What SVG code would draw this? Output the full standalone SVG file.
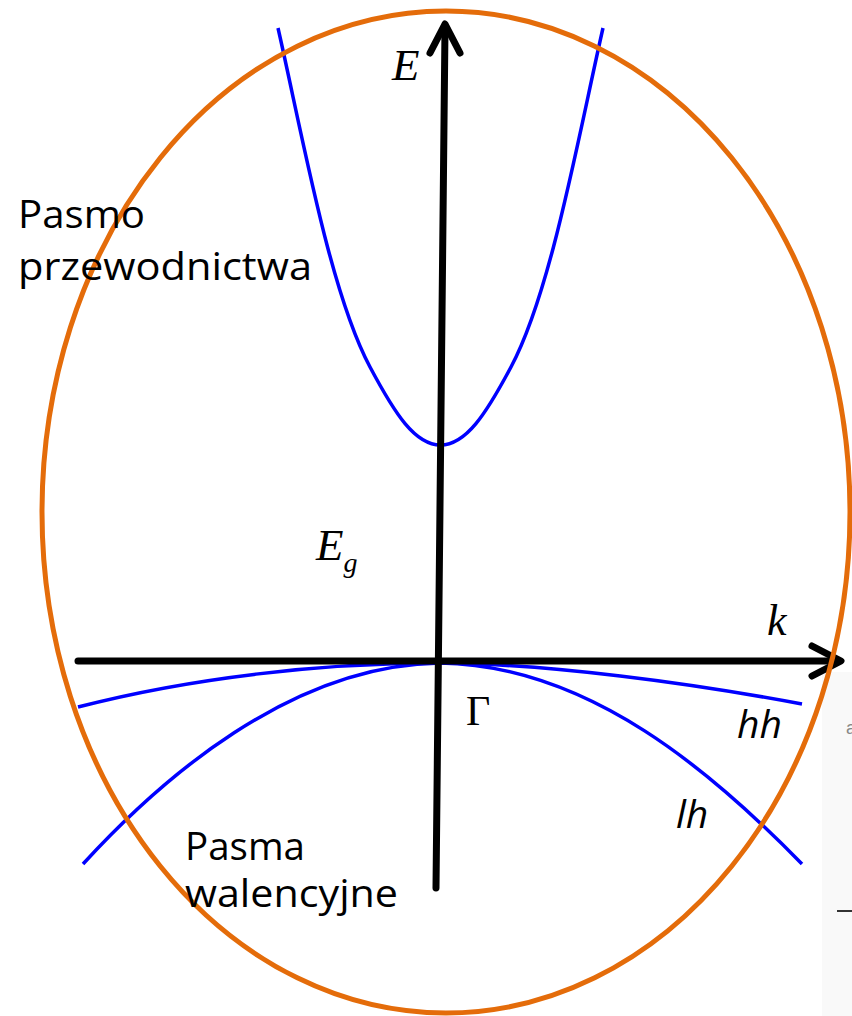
<svg xmlns="http://www.w3.org/2000/svg" width="852" height="1016" viewBox="0 0 852 1016">
<style>
.band{fill:none;stroke:#0000ff;stroke-width:3.5;stroke-linejoin:round;stroke-linecap:butt}
.axis{fill:none;stroke:#000;stroke-width:7;stroke-linecap:round;stroke-linejoin:round}
.sans{font-family:"Open Sans","Liberation Sans",sans-serif;font-size:39px;fill:#000}
.serif{font-family:"Liberation Serif","DejaVu Serif",serif;fill:#000}
</style>
<rect x="0" y="0" width="852" height="1016" fill="#fff"/>
<g id="side-strip">
<rect x="822" y="672" width="30" height="344" fill="#f9f9f9"/>
<text x="846" y="734" font-family="Liberation Sans, sans-serif" font-size="18" fill="#888">a</text>
<line x1="837" y1="911" x2="852" y2="911" stroke="#333" stroke-width="2"/>
</g>
<g id="bands">
<path id="conduction" class="band" d="M278,28 C303,138 330,292 370,367 C395,414 415,445 440.5,445 C466,445 486,414 511,367 C551,292 578,138 603,28"/>
<path id="hh" class="band" d="M78,707 C190,678 320,663 440,663 C550,664 690,683 802,704"/>
<path id="lh" class="band" d="M83,864 C160,780 290,665 440,663 C590,665 715,775 802,864"/>
</g>
<g id="axes">
<line class="axis" x1="436" y1="888" x2="445" y2="28"/>
<polyline class="axis" points="430,53 445,24 460,53"/>
<line class="axis" x1="78" y1="661" x2="838" y2="661"/>
<polyline class="axis" points="812,646 841,661 812,676"/>
</g>
<ellipse id="boundary" cx="446" cy="512" rx="404" ry="501" fill="none" stroke="#e46c0a" stroke-width="5"/>
<g id="labels">
<text class="sans" x="18" y="228" textLength="127" lengthAdjust="spacingAndGlyphs">Pasmo</text>
<text class="sans" x="18" y="280" textLength="294" lengthAdjust="spacingAndGlyphs">przewodnictwa</text>
<text class="sans" x="185" y="860" textLength="120" lengthAdjust="spacingAndGlyphs">Pasma</text>
<text class="sans" x="185" y="907" textLength="213" lengthAdjust="spacingAndGlyphs">walencyjne</text>
<text class="serif" x="392" y="80" font-size="45" font-style="italic">E</text>
<text class="serif" x="316" y="560" font-size="45" font-style="italic">E<tspan font-size="28" dy="12">g</tspan></text>
<text class="serif" x="767" y="635" font-size="44" font-style="italic">k</text>
<text class="serif" x="466" y="725" font-size="42">Γ</text>
<text class="sans" x="737" y="738" font-size="40" font-style="italic">hh</text>
<text class="sans" x="676" y="828" font-size="40" font-style="italic">lh</text>
</g>
</svg>
